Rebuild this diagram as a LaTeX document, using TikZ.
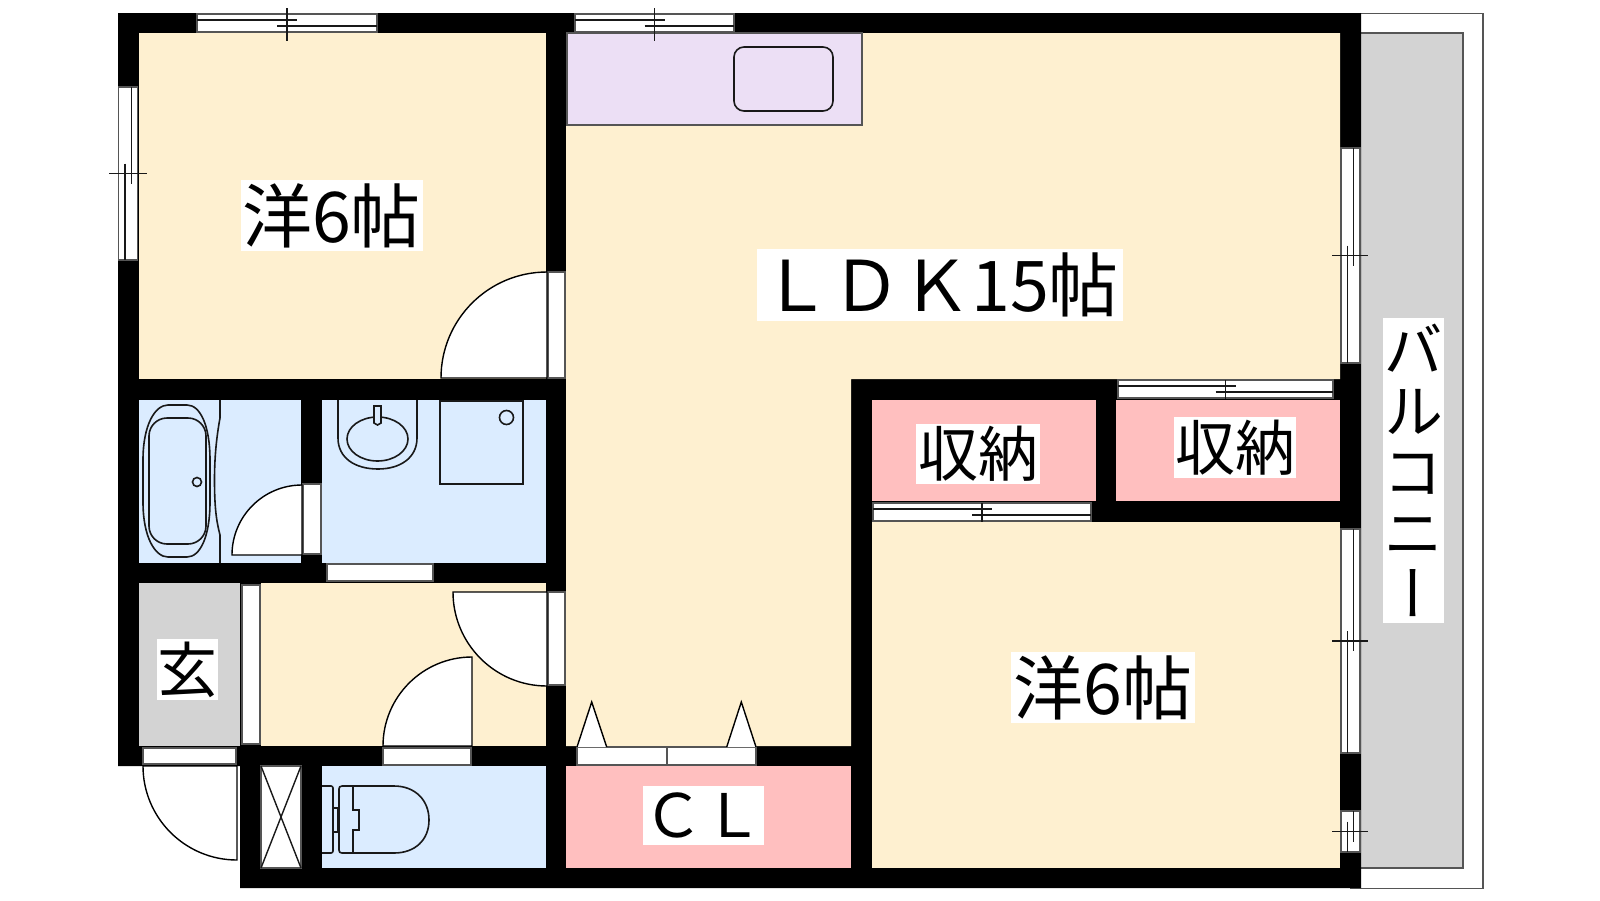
\documentclass[tikz,border=0pt]{standalone}
\usepackage{fontspec}
\setmainfont{Noto Sans CJK JP}
\newfontfamily\vertfont[RawFeature=+vert]{Noto Sans CJK JP}
\definecolor{roomcream}{HTML}{FEF0D0}
\definecolor{wetblue}{HTML}{DBECFF}
\definecolor{storepink}{HTML}{FFBFBF}
\definecolor{kitchenlilac}{HTML}{ECDFF5}
\definecolor{floorgrey}{HTML}{D3D3D3}
\definecolor{framegrey}{HTML}{555555}
\begin{document}
\begin{tikzpicture}[x=1pt, y=-1pt]
    \tikzstyle{fixture} = [draw=black!90, line width=1.6pt]
    \tikzstyle{frame} = [draw=framegrey, fill=white, line width=1.4pt]
    \tikzstyle{leaf} = [draw=black, fill=white, line width=1.4pt]
    \tikzstyle{sash} = [draw=black!90, line width=1.4pt]
    \tikzstyle{biglabel} = [fill=white, inner sep=0pt, font=\fontsize{70}{70}\selectfont]
    \tikzstyle{smalllabel} = [fill=white, inner sep=0pt, font=\fontsize{60}{61}\selectfont]
    \useasboundingbox (0,0) rectangle (1600,900);

    % Balcony
    \draw [framegrey, fill=white, line width=1.4pt] (1350,13.5) -- (1483,13.5) -- (1483,888.5) -- (1350,888.5);
    \fill [floorgrey] (1361,33) rectangle (1463,868);
    \draw [framegrey, line width=1.6pt] (1361,33) -- (1463,33) -- (1463,868) -- (1361,868);

    % Walls
    \fill [black] (118,13) -- (1361,13) -- (1361,888) -- (240,888) -- (240,766) -- (118,766) -- cycle;

    % Rooms
    \fill [roomcream] (139,33) rectangle (546,379);
    \fill [roomcream] (566,33) -- (1340,33) -- (1340,379) -- (851,379) -- (851,746) -- (566,746) -- cycle;
    \fill [roomcream] (872,522) rectangle (1340,868);
    \fill [roomcream] (261,583) rectangle (546,746);
    \fill [wetblue] (139,400) rectangle (301,563);
    \fill [wetblue] (322,400) rectangle (546,563);
    \fill [wetblue] (322,766) rectangle (546,868);
    \fill [storepink] (872,400) rectangle (1096,501);
    \fill [storepink] (1116,400) rectangle (1340,501);
    \fill [storepink] (566,766) rectangle (851,868);
    \fill [floorgrey] (139,583) rectangle (240,746);
    \draw [frame] (261,766) rectangle (301,868);
    \draw [sash] (261,766) -- (301,868) (301,766) -- (261,868);

    % Kitchen
    \draw [framegrey, fill=kitchenlilac, line width=1.4pt] (567,33) rectangle (862,125);
    \draw [fixture, rounded corners=10pt] (734,47) rectangle (833,111);

    % Bath
    \draw [fixture] (143,460) .. controls (143,425) and (155,405) .. (168,405) -- (187,405) .. controls (200,405) and (210,425) .. (210,460) -- (210,502) .. controls (210,537) and (200,557) .. (187,557) -- (168,557) .. controls (155,557) and (143,537) .. (143,502) -- cycle;
    \draw [fixture, rounded corners=18pt] (149,418) rectangle (206,544);
    \draw [fixture] (197,482) circle (4.5pt);
    \draw [fixture] (220,400) -- (220,418) .. controls (216,440) and (214.5,460) .. (214.5,480) .. controls (214.5,505) and (216,520) .. (220,535) -- (220,563);

    % Washroom
    \draw [fixture] (338,400) -- (338,438) .. controls (338,458) and (355,469) .. (378,469) .. controls (400,469) and (417,458) .. (417,438) -- (417,400);
    \draw [fixture] (377.5,439) ellipse (30.5pt and 22pt);
    \draw [fixture, fill=wetblue] (374,406) -- (381,406) -- (381,423) -- (377.5,425) -- (374,423) -- cycle;
    \draw [fixture] (440,401) rectangle (523,484);
    \draw [fixture] (506.5,417.5) circle (7pt);

    % Toilet
    \draw [fixture, rounded corners=2pt] (322,786) -- (333,786) -- (333,853) -- (322,853);
    \draw [fixture] (333,808) rectangle (338,832);
    \draw [fixture] (342,786) -- (394,786) .. controls (415,786) and (429,800) .. (429,820) .. controls (429,840) and (415,853) .. (394,853) -- (342,853) .. controls (340,853) and (339,852) .. (339,850) -- (339,789) .. controls (339,787) and (340,786) .. (342,786) -- cycle;
    \draw [fixture] (352.7,786) -- (352.7,810) -- (359,810) -- (359,830) -- (352.7,830) -- (352.7,853);

    % Door frames
    \draw [frame] (548,272) rectangle (565,378);
    \draw [frame] (303,484) rectangle (321,554);
    \draw [frame] (327,564) rectangle (433,581);
    \draw [frame] (548,592) rectangle (565,685);
    \draw [frame] (242,585) rectangle (260,744);
    \draw [frame] (143,748) rectangle (236,764);
    \draw [frame] (383,748) rectangle (471,765);
    \draw [frame] (577,747) rectangle (667,765);
    \draw [frame] (667,747) rectangle (756,765);

    % Door leaves
    \draw [leaf] (547,378) -- (441,378) arc [start angle=180, end angle=90, radius=106pt] -- cycle;
    \draw [leaf] (302,555) -- (232,555) arc [start angle=180, end angle=90, radius=70pt] -- cycle;
    \draw [leaf] (547,592) -- (453,592) arc [start angle=180, end angle=270, radius=94pt] -- cycle;
    \draw [leaf] (472,746) -- (383,746) arc [start angle=180, end angle=90, radius=89pt] -- cycle;
    \draw [leaf] (237,766) -- (143,766) arc [start angle=180, end angle=270, radius=94pt] -- cycle;
    \draw [leaf] (577,747) -- (591.7,702) -- (606.7,747);
    \draw [leaf] (726.7,747) -- (741.3,702) -- (756,747);

    % Horizontal windows: left, right, top, tick ends
    \foreach \xa/\xb/\ya/\tta/\ttb in {197/377/14/8/41, 575/734/14/8/41, 1118/1333/380/380/399, 873/1091/503/503/522} {
        \pgfmathsetmacro{\xm}{(\xa+\xb)/2}
        \draw [frame] (\xa,\ya) rectangle (\xb,\ya+18);
        \draw [sash] (\xa,\ya+6) -- (\xm+10,\ya+6) (\xm-10,\ya+12) -- (\xb,\ya+12) (\xm,\tta) -- (\xm,\ttb);
    }

    % Vertical windows: top, bottom, left rail, tick ends
    \foreach \ya/\yb/\xa/\tta/\ttb in {87/260/118.5/109/147, 148/363/1341/1332/1368, 529/753/1341/1332/1368, 811/852/1341/1332/1368} {
        \pgfmathsetmacro{\ym}{(\ya+\yb)/2}
        \draw [frame] (\xa,\ya) rectangle (\xa+19,\yb);
        \draw [sash] (\xa+6.5,\ym-10) -- (\xa+6.5,\yb) (\xa+12.7,\ya) -- (\xa+12.7,\ym+10) (\tta,\ym) -- (\ttb,\ym);
    }

    % Labels
    \node [biglabel, minimum width=182pt, minimum height=71pt] (westroom) at (331.5,215.5) {洋6帖};
    \node [biglabel, minimum width=366pt, minimum height=72pt] (ldk) at (940,285) {ＬＤＫ15帖};
    \node [biglabel, minimum width=184pt, minimum height=71pt] (eastroom) at (1103,687.5) {洋6帖};
    \node [smalllabel, minimum width=124pt, minimum height=60pt] (storeleft) at (978,454) {収納};
    \node [smalllabel, minimum width=122pt, minimum height=61pt] (storeright) at (1235,447.5) {収納};
    \node [smalllabel, minimum width=61pt, minimum height=61pt] (entrance) at (187.5,669.5) {玄};
    \node [smalllabel, minimum width=121pt, minimum height=59pt] (closet) at (703.5,815.5) {ＣＬ};
    \node [smalllabel, align=center, minimum width=61pt, minimum height=305pt, font=\fontsize{60}{61}\vertfont] (balcony) at (1413.5,470.5) {バ\\ル\\コ\\ニ\\ー};
\end{tikzpicture}
\end{document}
